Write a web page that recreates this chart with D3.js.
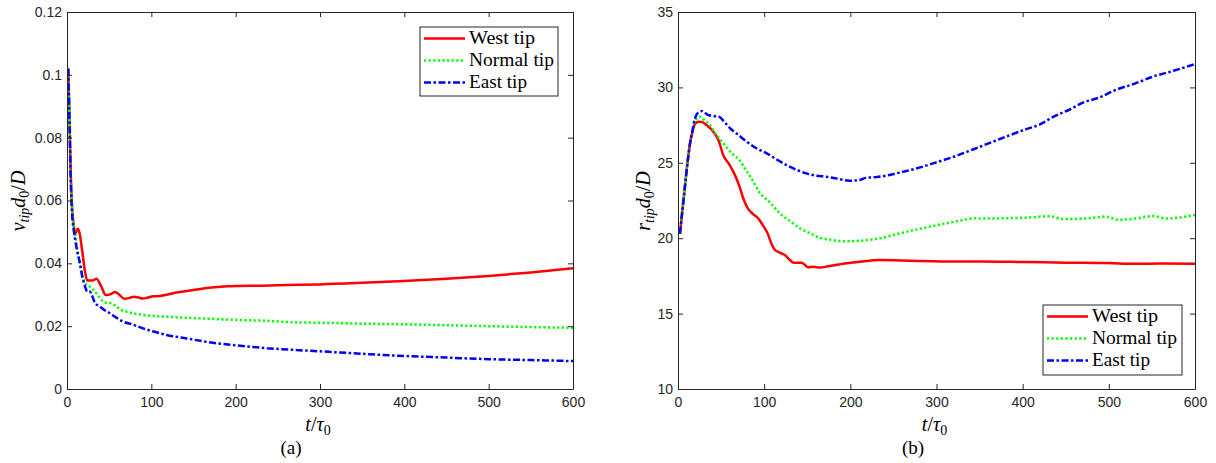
<!DOCTYPE html>
<html><head><meta charset="utf-8">
<script src="https://cdn.jsdelivr.net/npm/d3@7"></script>
<style>body{margin:0;background:#fff;} svg{display:block;}</style>
</head><body><svg id="c" width="1216" height="463"></svg>
<script>
// ---------- data ----------
const seriesNames = ["West tip", "Normal tip", "East tip"];
const seriesColors = ["#ff0000", "#00ff00", "#0000ff"];
const seriesDash = [null, "2.2,2.4", "7,2.5,2.5,2.5"];

// Panel (a): v_tip d0 / D
const westT_a = [1.5,2.5,3.5,4.5,6,8,10,11.5,13,15,18,21,24,30,35,40,46,52,57,62,68,74,79,85,90,96,102,110,118,126,138,150,162,175,190,200,230,260,300,350,400,450,500,550,600];
const westV_a = [0.102,0.092,0.080,0.068,0.058,0.052,0.0495,0.0505,0.0510,0.0495,0.044,0.038,0.0345,0.0345,0.0351,0.033,0.0299,0.0302,0.0309,0.0300,0.0287,0.0290,0.0294,0.0291,0.0288,0.0291,0.0295,0.0296,0.0300,0.0305,0.0310,0.0315,0.0320,0.0324,0.0327,0.0328,0.0329,0.0331,0.0333,0.0338,0.0344,0.0351,0.0360,0.0371,0.0384];
const normT_a = [1.5,2.5,3.5,4.5,6,8,9.5,12,15,18,21,24,27,33,39,45,51,57,64,71,80,90,104,118,140,158,200,237,272,300,350,400,450,500,550,600];
const normV_a = [0.102,0.091,0.079,0.067,0.057,0.052,0.0497,0.045,0.040,0.036,0.034,0.033,0.0326,0.031,0.0290,0.0275,0.0274,0.0266,0.0252,0.0246,0.0240,0.0236,0.0232,0.0230,0.0227,0.0225,0.0220,0.0217,0.0212,0.0211,0.0208,0.0206,0.0203,0.0200,0.0197,0.0195];
const eastT_a = [1.5,2.5,3.5,4.5,6,8.3,10,12,15.4,18,21,24,27,30,33,39,45,51,58,67,78,90,104,118,142,173,197,237,272,300,350,400,450,500,550,600];
const eastV_a = [0.102,0.090,0.078,0.066,0.056,0.050,0.047,0.044,0.040,0.036,0.033,0.031,0.031,0.0295,0.0275,0.0262,0.0250,0.0241,0.0228,0.0214,0.0205,0.0193,0.0182,0.0172,0.0161,0.0147,0.0140,0.0130,0.0124,0.0120,0.0112,0.0105,0.0100,0.0095,0.0092,0.0089];

// Panel (b): r_tip d0 / D
const westT_b = [2.3,5,8,11,14,17,20,24,28,33,41,47,52.6,60,66,71.4,76,81,87,93,98,104,108,112.5,118,124,129,134,143.5,151,157,164.6,176,186,196,211,234,269,296,327,350,400,450,500,530,560,600];
const westR_b = [20.3,21.8,23.4,25.0,26.3,27.1,27.6,27.73,27.7,27.5,27.06,26.5,25.5,24.85,24.2,23.42,22.6,21.98,21.6,21.32,20.9,20.32,19.7,19.22,19.05,18.89,18.6,18.38,18.38,18.07,18.1,18.05,18.16,18.25,18.34,18.44,18.55,18.51,18.47,18.45,18.45,18.42,18.38,18.35,18.3,18.32,18.3];
const normT_b = [2.3,5,8,11,14,17,20,25.5,30,37,44,52.6,58,64,71,78,87,95,107,118,131,141.6,154,164.6,177,188,199,211,234,257.6,288.6,327,343,360,374,400,431.7,447,470,497,511,530,551,567,585,600];
const normR_b = [20.3,21.8,23.4,25.0,26.3,27.2,27.8,28.06,27.85,27.5,26.9,26.3,25.9,25.55,25.2,24.6,23.8,23.0,22.35,21.65,21.1,20.66,20.3,20.03,19.9,19.81,19.8,19.83,19.99,20.32,20.72,21.16,21.32,21.3,21.32,21.35,21.45,21.27,21.3,21.43,21.22,21.3,21.47,21.3,21.4,21.54];
const eastT_b = [2.3,5,8,11,14,17,19.7,24,28,34,41,47.6,54,60.3,70,79.7,90,103,115,126,137,149,160,172,185,199,210,218,230,242,257,275,296,320,343,370,401,420,436,455,470,490,508,530,551,575,600];
const eastR_b = [20.3,21.8,23.4,25.0,26.3,27.2,27.95,28.35,28.43,28.2,28.1,28.06,27.7,27.3,26.85,26.4,26.0,25.63,25.2,24.85,24.55,24.3,24.15,24.08,23.95,23.81,23.85,24.0,24.05,24.15,24.35,24.6,24.96,25.4,25.9,26.5,27.17,27.55,28.06,28.55,28.99,29.35,29.83,30.25,30.71,31.1,31.55];

const xTicks = [0,100,200,300,400,500,600];
const yTicks_a = [0,0.02,0.04,0.06,0.08,0.1,0.12];
const yTickLabels_a = ["0","0.02","0.04","0.06","0.08","0.1","0.12"];
const yTicks_b = [10,15,20,25,30,35];
const yTickLabels_b = ["10","15","20","25","30","35"];

// ---------- drawing ----------
const svg = d3.select("#c");
const axisColor = "#262626";
const tickFont = "'Liberation Sans', Arial, Helvetica, sans-serif";
const serif = "'Liberation Serif', 'Times New Roman', serif";

function drawPanel(p) {
  const x = d3.scaleLinear().domain([0,600]).range([p.x0, p.x1]);
  const y = d3.scaleLinear().domain(p.yDomain).range([p.y1, p.y0]);
  const g = svg.append("g");

  const tl = 5;
  const bottom = d3.axisBottom(x).tickValues(xTicks).tickSizeInner(-tl).tickSizeOuter(0).tickPadding(8).tickFormat(d => d);
  const top = d3.axisTop(x).tickValues(xTicks).tickSizeInner(-tl).tickSizeOuter(0).tickFormat("");
  const left = d3.axisLeft(y).tickValues(p.yTicks).tickSizeInner(-tl).tickSizeOuter(0).tickPadding(5)
      .tickFormat((d,i) => p.yTickLabels[i]);
  const right = d3.axisRight(y).tickValues(p.yTicks).tickSizeInner(-tl).tickSizeOuter(0).tickFormat("");

  const clipId = "clip" + p.id;
  svg.append("clipPath").attr("id", clipId).append("rect")
    .attr("x", p.x0).attr("y", p.y0).attr("width", p.x1 - p.x0).attr("height", p.y1 - p.y0);
  const line = d3.line().x(d => x(d[0])).y(d => y(d[1])).curve(d3.curveMonotoneX);
  const cg = g.append("g").attr("clip-path", `url(#${clipId})`);
  p.series.forEach((s, i) => {
    const pts = s.t.map((t, k) => [t, s.v[k]]);
    cg.append("path").datum(pts).attr("d", line)
      .attr("fill", "none").attr("stroke", seriesColors[i]).attr("stroke-width", 2.5)
      .attr("stroke-dasharray", seriesDash[i]).attr("stroke-linejoin", "round");
  });

  [[bottom, `translate(0,${p.y1})`], [top, `translate(0,${p.y0})`], [left, `translate(${p.x0},0)`], [right, `translate(${p.x1},0)`]]
    .forEach(([ax, tr]) => {
      const a = g.append("g").attr("transform", tr).call(ax);
      a.selectAll("path.domain").attr("stroke", axisColor).attr("stroke-width", 1);
      a.selectAll(".tick line").attr("stroke", axisColor).attr("stroke-width", 1);
      a.selectAll(".tick text").attr("fill", axisColor).style("font-family", tickFont).style("font-size", "14px");
    });

  const L = p.legend;
  const lg = g.append("g");
  lg.append("rect").attr("x", L.x).attr("y", L.y).attr("width", L.w).attr("height", L.h)
    .attr("fill", "#fff").attr("stroke", axisColor).attr("stroke-width", 1);
  seriesNames.forEach((name, i) => {
    const cy = L.y + 11.5 + i * 22;
    lg.append("line").attr("x1", L.x + 4).attr("x2", L.x + 45).attr("y1", cy).attr("y2", cy)
      .attr("stroke", seriesColors[i]).attr("stroke-width", 2.5).attr("stroke-dasharray", seriesDash[i]);
    lg.append("text").attr("x", L.x + 49).attr("y", cy + 5.5).text(name)
      .style("font-family", serif).style("font-size", "18px").attr("fill", "#000")
      .attr("textLength", [66, 85, 58][i]).attr("lengthAdjust", "spacingAndGlyphs");
  });

  const xl = g.append("text").attr("x", (p.x0 + p.x1) / 2 - 2).attr("y", 431).attr("text-anchor", "middle")
    .style("font-family", serif).style("font-size", "20px").attr("fill", "#000");
  xl.append("tspan").style("font-style", "italic").text("t");
  xl.append("tspan").text("/");
  xl.append("tspan").style("font-style", "italic").text("τ");
  xl.append("tspan").attr("dy", 4).style("font-size", "14px").text("0");

  const yl = g.append("text").attr("transform", `translate(${p.ylx},201) rotate(-90)`).attr("text-anchor", "middle")
    .style("font-family", serif).style("font-size", "20px").attr("fill", "#000");
  yl.append("tspan").style("font-style", "italic").text(p.ySym);
  yl.append("tspan").attr("dy", 4).style("font-style", "italic").style("font-size", "14px").text("tip");
  yl.append("tspan").attr("dy", -4).style("font-style", "italic").text("d");
  yl.append("tspan").attr("dy", 4).style("font-size", "14px").text("0");
  yl.append("tspan").attr("dy", -4).text("/");
  yl.append("tspan").style("font-style", "italic").text("D");

  g.append("text").attr("x", p.capX).attr("y", 454).attr("text-anchor", "middle")
    .style("font-family", serif).style("font-size", "19px").attr("fill", "#000").text(p.caption);
}

drawPanel({
  id: "a", x0: 67, x1: 573, y0: 12, y1: 389, yDomain: [0, 0.12],
  yTicks: yTicks_a, yTickLabels: yTickLabels_a,
  series: [{t: westT_a, v: westV_a}, {t: normT_a, v: normV_a}, {t: eastT_a, v: eastV_a}],
  legend: {x: 420, y: 27, w: 138, h: 69},
  ylx: 25, ySym: "v", caption: "(a)", capX: 291
});
drawPanel({
  id: "b", x0: 678, x1: 1195, y0: 12, y1: 389, yDomain: [10, 35],
  yTicks: yTicks_b, yTickLabels: yTickLabels_b,
  series: [{t: westT_b, v: westR_b}, {t: normT_b, v: normR_b}, {t: eastT_b, v: eastR_b}],
  legend: {x: 1043, y: 305, w: 139, h: 70},
  ylx: 650, ySym: "r", caption: "(b)", capX: 913
});
</script>
</body></html>
